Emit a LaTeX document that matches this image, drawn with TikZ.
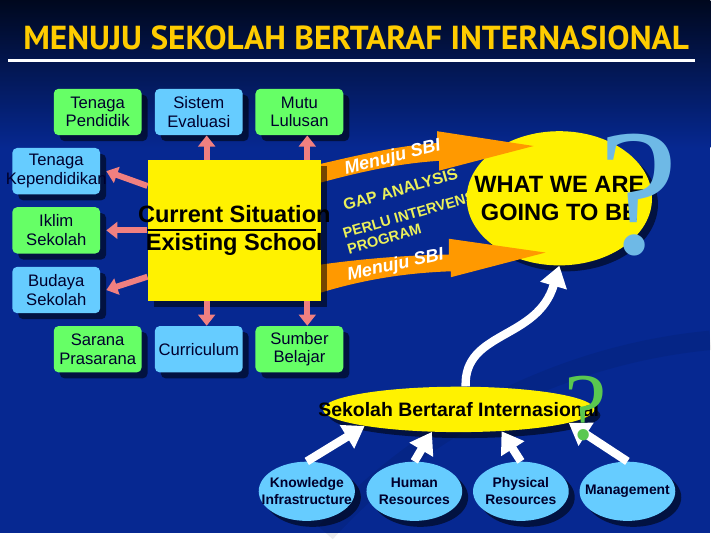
\documentclass[tikz,border=0pt]{standalone}
\usepackage{fontspec}
\setmainfont{Liberation Sans}
\newfontfamily\titlefont{PT Sans}
\newfontfamily\qfont{Liberation Serif}
\usetikzlibrary{arrows.meta,shapes.geometric,shadows,calc}

\definecolor{bgblue}{RGB}{6,40,145}
\definecolor{bgtop}{RGB}{0,8,30}
\definecolor{ttlyellow}{RGB}{255,204,0}
\definecolor{boxgreen}{RGB}{102,255,102}
\definecolor{boxblue}{RGB}{102,204,255}
\definecolor{inkblue}{RGB}{0,0,45}
\definecolor{arrpink}{RGB}{240,128,128}
\definecolor{arrorange}{RGB}{255,153,0}
\definecolor{gapyellow}{RGB}{235,240,90}
\definecolor{qblue}{RGB}{110,185,230}
\definecolor{qgreen}{RGB}{90,200,80}

\begin{document}
\begin{tikzpicture}[x=0.025cm,y=-0.025cm,
  shade box/.style={general shadow={fill=black,opacity=.55,shadow xshift=4.3pt,shadow yshift=-4.3pt}},
  itembox/.style={shade box,rectangle,rounded corners=3.5pt,minimum width=2.225cm,minimum height=1.175cm,
    inner xsep=-12pt,align=center,text=inkblue,font=\fontsize{12}{13.5}\selectfont},
  greenbox/.style={itembox,fill=boxgreen},
  bluebox/.style={itembox,fill=boxblue},
  resell/.style={shade box,ellipse,fill=boxblue,minimum width=2.425cm,minimum height=1.5cm,
    inner xsep=-8pt,inner ysep=0pt,align=center,text=inkblue,font=\bfseries\fontsize{10}{12}\selectfont},
  pinkarr/.style={draw=arrpink,line width=4.3pt,-{Triangle[width=12pt,length=8pt]}},
  whitearr/.style={draw=white,line width=6pt,-{Triangle[width=19pt,length=15pt]}},
  slanttxt/.style={text=gapyellow,align=left,inner sep=0pt},
  sbitxt/.style={font=\bfseries\itshape\fontsize{13}{15}\selectfont,text=white},
]
% background
\fill[bgblue] (0,0) rectangle (720,540);
\shade[top color=bgtop,bottom color=bgblue] (0,0) rectangle (720,150);
\draw[line width=14pt,black,opacity=.07] (330,540) .. controls (420,440) and (560,360) .. (720,345);

% title
\node[font=\titlefont\bfseries\fontsize{24}{28}\selectfont,text=ttlyellow] (title) at (361,38) {MENUJU SEKOLAH BERTARAF INTERNASIONAL};
\draw[white,line width=2.2pt] (8,61) -- (705,61);

% gap texts
\node[slanttxt,rotate=16,font=\bfseries\fontsize{11.5}{13}\selectfont] (gap) at (406,192) {GAP ANALYSIS};
\node[slanttxt,rotate=16,anchor=west,font=\bfseries\fontsize{10.5}{12}\selectfont] (perlu) at (350,245) {PERLU INTERVENSI\\PROGRAM};

% target
\node[shade box,ellipse,fill=yellow,minimum width=4.65cm,minimum height=3.4cm,inner xsep=-14pt,inner ysep=0pt,
  align=center,font=\bfseries\fontsize{17}{20}\selectfont] (what) at (567,201) {WHAT WE ARE\\GOING TO BE};

% orange arrows
\fill[arrorange] (300,172) .. controls (360,158) and (400,148) .. (443,145) -- (443,133) -- (541,148)
  -- (445,173) -- (445,163) .. controls (400,166) and (360,175) .. (300,192) -- cycle;
\fill[arrorange] (300,272) .. controls (350,264) and (400,259) .. (455,258) -- (455,242) -- (553,256)
  -- (457,281) -- (457,275) .. controls (400,277) and (350,287) .. (300,305) -- cycle;
\node[sbitxt,rotate=14] (sbiup) at (398,160) {Menuju SBI};
\node[sbitxt,rotate=12] (sbidown) at (401,269) {Menuju SBI};

% current situation
\node[shade box,fill=yellow,minimum width=4.325cm,minimum height=3.575cm,inner xsep=-7pt,align=center,
  font=\bfseries\fontsize{17}{20}\selectfont] (now) at (237.5,233.5) {Current Situation\\Existing School};
\draw[line width=1.4pt] (now.west) -- ($(now.east)+(-5,0)$);

\node[qblue,font=\qfont\fontsize{130}{130}\selectfont,inner sep=0pt,anchor=base] (qbig) at (647,257) {?};

% components
\node[greenbox] (pen) at (99,113.5) {Tenaga\\Pendidik};
\node[bluebox] (sis) at (201.5,113.5) {Sistem\\Evaluasi};
\node[greenbox] (mut) at (303.5,113.5) {Mutu\\Lulusan};
\node[bluebox] (ken) at (57,173.5) {Tenaga\\Kependidikan};
\node[greenbox] (ikl) at (57,233.5) {Iklim\\Sekolah};
\node[bluebox] (bud) at (57,294) {Budaya\\Sekolah};
\node[greenbox] (sar) at (99,354) {Sarana\\Prasarana};
\node[bluebox] (kur) at (201.5,354) {Curriculum};
\node[greenbox] (sum) at (303.5,354) {Sumber\\Belajar};

\draw[pinkarr] ($(sis.south |- now.north)+(8,0)$) -- ($(sis.south)+(8,0)$);
\draw[pinkarr] ($(mut.south |- now.north)+(8,0)$) -- ($(mut.south)+(8,0)$);
\draw[pinkarr] ($(kur.north |- now.south)+(8,0)$) -- ($(kur.north)+(8,0)$);
\draw[pinkarr] ($(sum.north |- now.south)+(8,0)$) -- ($(sum.north)+(8,0)$);
\draw[pinkarr] ($(now.west)+(0,-45)$) -- ($(ken.east)+(6,0)$);
\draw[pinkarr] (now.west |- ikl.east) -- ($(ikl.east)+(6,0)$);
\draw[pinkarr] ($(now.west)+(0,47)$) -- ($(bud.east)+(6,0)$);

% SBI
\node[shade box,ellipse,fill=yellow,minimum width=6.875cm,minimum height=1.15cm,inner xsep=-33pt,inner ysep=0pt,
  font=\bfseries\fontsize{14}{16}\selectfont] (sbi) at (465,415) {Sekolah Bertaraf Internasional};
\draw[whitearr] ($(sbi.north)+(7,0)$) .. controls (470,335) and (545,345) .. (what.south);

\node[resell] (kno) at (311,498) {Knowledge\\Infrastructure};
\node[resell] (hum) at (420,498) {Human\\Resources};
\node[resell] (phy) at (528,498) {Physical\\Resources};
\node[resell] (man) at (636,498) {Management};

\draw[whitearr] (kno.north) -- (sbi.190);
\draw[whitearr] (hum.north) -- (sbi.220);
\draw[whitearr] (phy.north) -- (sbi.333);
\draw[whitearr] (man.north) -- (sbi.353);

\node[qgreen,font=\qfont\fontsize{69}{69}\selectfont,inner sep=0pt,anchor=base] (qsmall) at (594,446) {?};
\end{tikzpicture}
\end{document}
